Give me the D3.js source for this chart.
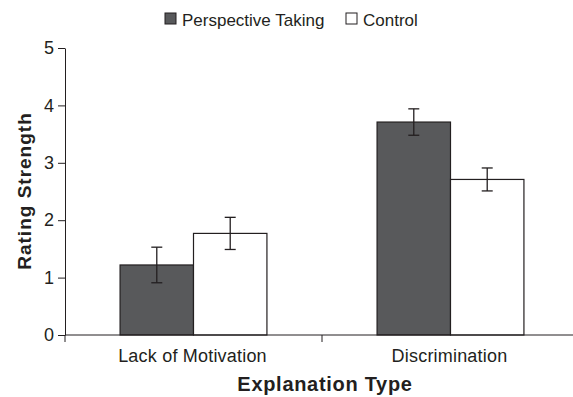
<!DOCTYPE html>
<html>
<head>
<meta charset="utf-8">
<script src="https://cdnjs.cloudflare.com/ajax/libs/d3/7.8.5/d3.min.js"></script>
<style>
  body { margin: 0; background: #fff; }
  svg text { font-family: "Liberation Sans", Arial, sans-serif; fill: #231f20; }
</style>
</head>
<body>
<div id="chart"></div>
<script>
// chart values
var categories = ["Lack of Motivation", "Discrimination"];
var seriesNames = ["Perspective Taking", "Control"];
var perspectiveMeans = [1.22, 3.71];
var perspectiveErrors = [0.31, 0.23];
var controlMeans = [1.77, 2.71];
var controlErrors = [0.28, 0.2];
var yTicks = [0, 1, 2, 3, 4, 5];

var colors = ["#58595b", "#ffffff"];
var ink = "#231f20";

var width = 573, height = 397;
var margin = { left: 65, top: 48, bottom: 62 };
var plotRight = 579; // second category band runs off the right edge

var svg = d3.select("#chart").append("svg")
    .attr("width", width)
    .attr("height", height);

var x = d3.scaleBand()
    .domain(categories)
    .range([margin.left, plotRight])
    .paddingInner(0)
    .paddingOuter(0);

var inner = d3.scaleBand()
    .domain(seriesNames)
    .range([0, x.bandwidth()])
    .paddingOuter(0.75)
    .paddingInner(0);

var y = d3.scaleLinear()
    .domain([0, 5])
    .range([height - margin.bottom, margin.top]);

// build rows for each bar
var rows = [];
categories.forEach(function(c, i) {
  rows.push({ cat: c, series: seriesNames[0], mean: perspectiveMeans[i], err: perspectiveErrors[i], fill: colors[0] });
  rows.push({ cat: c, series: seriesNames[1], mean: controlMeans[i], err: controlErrors[i], fill: colors[1] });
});

// bars
svg.selectAll("rect.bar")
    .data(rows)
  .enter().append("rect")
    .attr("class", "bar")
    .attr("x", function(d) { return x(d.cat) + inner(d.series); })
    .attr("y", function(d) { return y(d.mean); })
    .attr("width", inner.bandwidth())
    .attr("height", function(d) { return y(0) - y(d.mean); })
    .style("fill", function(d) { return d.fill; })
    .style("stroke", ink)
    .style("stroke-width", 1.2);

// error bars
var capHalf = 5.5;
var err = svg.selectAll("g.err")
    .data(rows)
  .enter().append("g")
    .attr("class", "err")
    .attr("transform", function(d) {
      return "translate(" + (x(d.cat) + inner(d.series) + inner.bandwidth() / 2) + ",0)";
    })
    .style("stroke", ink)
    .style("stroke-width", 1.3);

err.append("line")
    .attr("y1", function(d) { return y(d.mean + d.err); })
    .attr("y2", function(d) { return y(d.mean - d.err); });
err.append("line")
    .attr("x1", -capHalf).attr("x2", capHalf)
    .attr("y1", function(d) { return y(d.mean + d.err); })
    .attr("y2", function(d) { return y(d.mean + d.err); });
err.append("line")
    .attr("x1", -capHalf).attr("x2", capHalf)
    .attr("y1", function(d) { return y(d.mean - d.err); })
    .attr("y2", function(d) { return y(d.mean - d.err); });

// y axis
var yAxis = svg.append("g")
    .attr("transform", "translate(" + margin.left + ",0)")
    .call(d3.axisLeft(y).tickValues(yTicks).tickFormat(d3.format("d"))
      .tickSize(7).tickSizeOuter(0).tickPadding(4));
yAxis.select(".domain").style("stroke", ink);
yAxis.selectAll(".tick line").style("stroke", ink);
yAxis.selectAll(".tick text").style("font-size", "18px").style("fill", ink)
    .style("font-family", "'Liberation Sans', Arial, sans-serif");

// x axis line and ticks at band edges
svg.append("line")
    .attr("x1", margin.left).attr("x2", width)
    .attr("y1", y(0)).attr("y2", y(0))
    .style("stroke", ink).style("stroke-width", 1);

svg.selectAll("line.xtick")
    .data(categories)
  .enter().append("line")
    .attr("class", "xtick")
    .attr("x1", function(d) { return x(d); })
    .attr("x2", function(d) { return x(d); })
    .attr("y1", y(0)).attr("y2", y(0) + 7)
    .style("stroke", ink);

svg.selectAll("text.xlabel")
    .data(categories)
  .enter().append("text")
    .attr("class", "xlabel")
    .attr("x", function(d) { return x(d) + x.bandwidth() / 2 - 1; })
    .attr("y", 362)
    .attr("text-anchor", "middle")
    .style("font-size", "18px")
    .style("letter-spacing", "0.2px")
    .text(function(d) { return d; });

// axis titles
svg.append("text")
    .attr("x", 325)
    .attr("y", 391)
    .attr("text-anchor", "middle")
    .style("font-size", "20px")
    .style("letter-spacing", "0.7px")
    .style("font-weight", "bold")
    .text("Explanation Type");

svg.append("text")
    .attr("transform", "translate(31,191) rotate(-90)")
    .attr("text-anchor", "middle")
    .style("font-size", "19px")
    .style("letter-spacing", "1px")
    .style("font-weight", "bold")
    .text("Rating Strength");

// legend
var legendX = [165, 346];
var legend = svg.selectAll("g.legend")
    .data(seriesNames)
  .enter().append("g")
    .attr("class", "legend")
    .attr("transform", function(d, i) { return "translate(" + legendX[i] + ",13)"; });

legend.append("rect")
    .attr("width", 11).attr("height", 11)
    .style("fill", function(d, i) { return colors[i]; })
    .style("stroke", ink).style("stroke-width", 1);

legend.append("text")
    .attr("x", 17)
    .attr("y", 12.5)
    .style("font-size", "17px")
    .text(function(d) { return d; });
</script>
</body>
</html>
